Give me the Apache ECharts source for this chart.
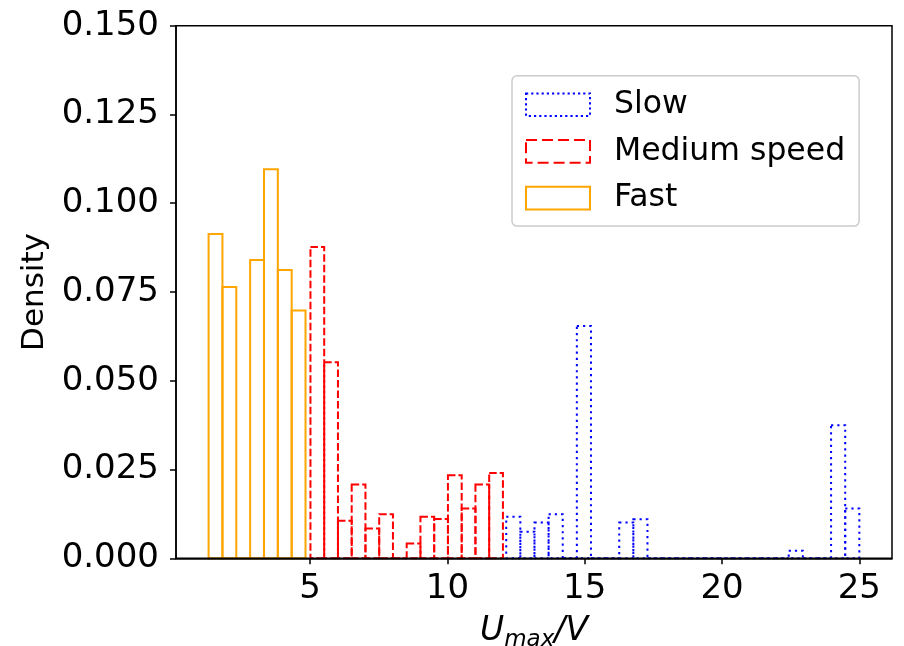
<!DOCTYPE html>
<html>
<head>
<meta charset="utf-8">
<script src="https://cdn.jsdelivr.net/npm/echarts@6/dist/echarts.min.js"></script>
<style>
  html, body { margin: 0; padding: 0; background: #fff; }
  #chart { width: 904px; height: 646px; }
</style>
</head>
<body>
<div id="chart"></div>
<script>
// Histogram bin heights (density) and the [lo, hi] span covered by each series' bins
const slowRange = [12.14, 25.0];
const slowDensity = [0.0117, 0.0075, 0.0101, 0.0124, 0, 0.0654, 0, 0, 0.0101, 0.0110,
                     0, 0, 0, 0, 0, 0, 0, 0, 0, 0,
                     0.0021, 0, 0, 0.0375, 0.0140];
const mediumRange = [5.01, 12.02];
const mediumDensity = [0.0877, 0.0552, 0.0106, 0.0208, 0.0084, 0.0124, 0, 0.0042,
                       0.0117, 0.0111, 0.0234, 0.0140, 0.0208, 0.0240];
const fastRange = [1.30, 4.83];
const fastDensity = [0.0913, 0.0764, 0, 0.0840, 0.1096, 0.0812, 0.0698];

const seriesNames = ['Slow', 'Medium speed', 'Fast'];
const xTicks = [5, 10, 15, 20, 25];
const yTicks = [0, 0.025, 0.05, 0.075, 0.1, 0.125, 0.15];

const FONT = 'DejaVu Sans';

// Turn heights + bin span into [left edge, right edge, height] rows
function toBins(range, heights) {
  const w = (range[1] - range[0]) / heights.length;
  return heights.map((h, i) => [range[0] + i * w, range[0] + (i + 1) * w, h]);
}

// Unfilled histogram bar outline
function stepBars(color, dash) {
  return function (params, api) {
    const top = api.coord([api.value(0), api.value(2)]);
    const base = api.coord([api.value(1), 0]);
    return {
      type: 'rect',
      shape: { x: top[0], y: top[1], width: base[0] - top[0], height: base[1] - top[1] },
      style: { fill: 'none', stroke: color, lineWidth: 2, lineDash: dash }
    };
  };
}

const styles = {
  'Slow': { color: '#0000ff', dash: [2.2, 4], legendDash: [2.2, 3] },
  'Medium speed': { color: '#ff0000', dash: [7.5, 3], legendDash: [11, 5] },
  'Fast': { color: '#ffa500', dash: null, legendDash: 'solid' }
};
const binData = {
  'Slow': toBins(slowRange, slowDensity),
  'Medium speed': toBins(mediumRange, mediumDensity),
  'Fast': toBins(fastRange, fastDensity)
};

const chart = echarts.init(document.getElementById('chart'), null, { renderer: 'canvas' });

chart.setOption({
  animation: false,
  backgroundColor: '#ffffff',
  textStyle: { fontFamily: FONT },
  grid: {
    left: 176, right: 12, top: 25.7, bottom: 87.7,
    outerBoundsMode: 'none',
    containLabel: false,
    show: true, borderColor: '#000', borderWidth: 1.5, z: 10
  },
  legend: {
    orient: 'vertical',
    left: 512, top: 75.7,
    padding: [13, 14, 12, 13],
    backgroundColor: 'rgba(255,255,255,0.8)',
    borderColor: '#cccccc', borderWidth: 1.5, borderRadius: 5,
    itemWidth: 64, itemHeight: 22.6, itemGap: 14.7,
    selectedMode: false,
    textStyle: { fontFamily: FONT, fontSize: 31.5, color: '#000', padding: [0, 0, 0, 19] },
    data: seriesNames.map(n => ({
      name: n,
      icon: 'rect',
      itemStyle: {
        color: 'rgba(0,0,0,0)',
        borderColor: styles[n].color,
        borderWidth: 2,
        borderType: styles[n].legendDash
      }
    }))
  },
  xAxis: {
    type: 'value',
    min: 0.113, max: 26.19,
    z: 10,
    name: '{i|U}{s|max}{i|/V}',
    nameLocation: 'middle',
    nameGap: 53,
    nameTextStyle: {
      rich: {
        i: { fontFamily: FONT, fontStyle: 'italic', fontSize: 33, lineHeight: 40, color: '#000' },
        s: { fontFamily: FONT, fontStyle: 'italic', fontSize: 23, lineHeight: 23, verticalAlign: 'bottom', color: '#000' }
      }
    },
    splitLine: { show: false },
    axisLine: { show: true, onZero: false, lineStyle: { color: '#000', width: 1.5 } },
    axisTick: { show: true, length: 6, lineStyle: { color: '#000', width: 1.5 }, customValues: xTicks },
    axisLabel: { fontFamily: FONT, fontSize: 34, color: '#000', margin: 14, customValues: xTicks }
  },
  yAxis: {
    type: 'value',
    min: 0, max: 0.15, interval: 0.025,
    z: 10,
    name: 'Density',
    nameLocation: 'middle',
    nameGap: 118,
    nameTextStyle: { fontFamily: FONT, fontSize: 31, color: '#000' },
    splitLine: { show: false },
    axisLine: { show: true, lineStyle: { color: '#000', width: 1.5 } },
    axisTick: { show: true, length: 6, lineStyle: { color: '#000', width: 1.5 }, customValues: yTicks },
    axisLabel: {
      fontFamily: FONT, fontSize: 34, color: '#000', margin: 17,
      customValues: yTicks,
      formatter: v => v.toFixed(3)
    }
  },
  series: seriesNames.map(n => ({
    name: n,
    type: 'custom',
    renderItem: stepBars(styles[n].color, styles[n].dash),
    itemStyle: { color: styles[n].color },
    encode: { x: [0, 1], y: 2 },
    data: binData[n],
    clip: false
  }))
});
</script>
</body>
</html>
